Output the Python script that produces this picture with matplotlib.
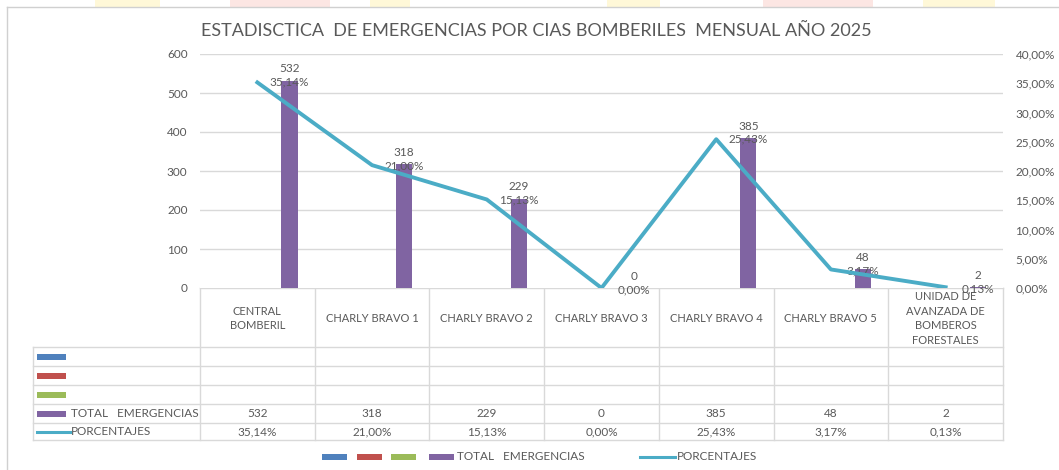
import numpy as np
import matplotlib
matplotlib.use('Agg')
import matplotlib.pyplot as plt
from matplotlib.patches import Rectangle

plt.rcParams['font.family'] = ['Lato', 'DejaVu Sans']

# data
cias = ['CENTRAL\nBOMBERIL', 'CHARLY BRAVO 1', 'CHARLY BRAVO 2', 'CHARLY BRAVO 3',
        'CHARLY BRAVO 4', 'CHARLY BRAVO 5', 'UNIDAD DE\nAVANZADA DE\nBOMBEROS\nFORESTALES']
total_emergencias = [532, 318, 229, 0, 385, 48, 2]
porcentajes = [35.14, 21.00, 15.13, 0.00, 25.43, 3.17, 0.13]
left_ticks = [0, 100, 200, 300, 400, 500, 600]
right_ticks = [0, 5, 10, 15, 20, 25, 30, 35, 40]

GRAY = '#595959'
PURPLE = '#8064A2'
TEAL = '#4BACC6'
GRID = '#D9D9D9'

def pct(v):
    return ('%.2f%%' % v).replace('.', ',')

W, H = 1059, 470
fig = plt.figure(figsize=(W / 100, H / 100), dpi=100)

# plot area in pixels
x0, x1, ytop, ybot = 200, 1003, 54, 288
ax = fig.add_axes([x0 / W, (H - ybot) / H, (x1 - x0) / W, (ybot - ytop) / H])
ax2 = ax.twinx()
x = np.arange(len(cias))

ax.bar(x + 0.28, total_emergencias, width=0.14, color=PURPLE, zorder=3)
ax.set_xlim(-0.5, len(cias) - 0.5)
ax.set_ylim(0, 600)
ax.set_yticks(left_ticks)
ax.set_xticks([])
for s in ax.spines.values():
    s.set_visible(False)
ax.tick_params(axis='y', length=0, labelsize=8.5, labelcolor=GRAY, pad=9)
for t in left_ticks[1:]:
    ax.axhline(t, color=GRID, lw=1, zorder=0)

ax2.plot(x, porcentajes, color=TEAL, lw=2.8, zorder=4)
ax2.set_ylim(0, 40)
ax2.set_yticks(right_ticks)
ax2.set_yticklabels([pct(t) for t in right_ticks])
for s in ax2.spines.values():
    s.set_visible(False)
ax2.tick_params(axis='y', length=0, labelsize=8.5, labelcolor=GRAY, pad=9)

for xi, v, p in zip(x, total_emergencias, porcentajes):
    ax.annotate('%d\n%s' % (v, pct(p)), (xi + 0.28, v), xytext=(0, -5),
                textcoords='offset points', ha='center', va='bottom',
                fontsize=8.5, color=GRAY, linespacing=1.25, zorder=5)

# overlay in pixel coordinates for table, legend, title, frame
ov = fig.add_axes([0, 0, 1, 1], zorder=-1)
ov.set_xlim(0, W)
ov.set_ylim(H, 0)
ov.axis('off')

# faint watermark above the frame
for a, b, c in [(95, 160, '#FFF8D8'), (230, 330, '#FCE6E3'), (370, 410, '#FFF8D8'),
                (607, 660, '#FFF8D8'), (763, 873, '#FCE6E3'), (923, 995, '#FFF8D8')]:
    ov.add_patch(Rectangle((a, 0), b - a, 7, color=c, lw=0))
ov.plot([7, W], [7, 7], color='#D0D0D0', lw=1)
ov.plot([7, 7], [7, H], color='#D0D0D0', lw=1)

fig.text(536 / W, 1 - 31 / H, 'ESTADISCTICA  DE EMERGENCIAS POR CIAS BOMBERILES  MENSUAL AÑO 2025',
         ha='center', va='center', fontsize=13, color=GRAY)

cols = [200 + i * 114.7 for i in range(len(cias) + 1)]
rows = [288, 347, 366, 385, 404, 423, 440]
tl = dict(color=GRID, lw=1, zorder=1)
ov.plot([cols[0], cols[-1]], [rows[0], rows[0]], **tl)
for r in rows[1:]:
    ov.plot([33, cols[-1]], [r, r], **tl)
for c in cols:
    ov.plot([c, c], [rows[0], rows[-1]], **tl)
ov.plot([33, 33], [rows[1], rows[-1]], **tl)

for i, name in enumerate(cias):
    cx = (cols[i] + cols[i + 1]) / 2
    ov.text(cx, (rows[0] + rows[1]) / 2 + 1, name, ha='center', va='center',
            fontsize=8, color=GRAY, linespacing=1.4)
    ov.text(cx, (rows[4] + rows[5]) / 2, str(total_emergencias[i]), ha='center',
            va='center', fontsize=8.5, color=GRAY)
    ov.text(cx, (rows[5] + rows[6]) / 2, pct(porcentajes[i]), ha='center',
            va='center', fontsize=8.5, color=GRAY)

key_colors = ['#4F81BD', '#C0504D', '#9BBB59', PURPLE]
for k, col in enumerate(key_colors):
    ym = (rows[k + 1] + rows[k + 2]) / 2
    ov.add_patch(Rectangle((37, ym - 3), 29, 6, color=col, lw=0))
ym = (rows[5] + rows[6]) / 2
ov.plot([37, 70], [ym, ym], color=TEAL, lw=2.2)
ov.text(71, (rows[4] + rows[5]) / 2, 'TOTAL   EMERGENCIAS', ha='left', va='center',
        fontsize=8.5, color=GRAY)
ov.text(71, ym, 'PORCENTAJES', ha='left', va='center', fontsize=8.5, color=GRAY)

# bottom legend
ly = 457
for a, col in zip([322, 357, 391, 429], key_colors):
    ov.add_patch(Rectangle((a, ly - 3), 25, 6, color=col, lw=0))
ov.text(457, ly, 'TOTAL   EMERGENCIAS', ha='left', va='center', fontsize=8.5, color=GRAY)
ov.plot([640, 675], [ly, ly], color=TEAL, lw=2.2)
ov.text(677, ly, 'PORCENTAJES', ha='left', va='center', fontsize=8.5, color=GRAY)

fig.savefig('out.png', dpi=100)
